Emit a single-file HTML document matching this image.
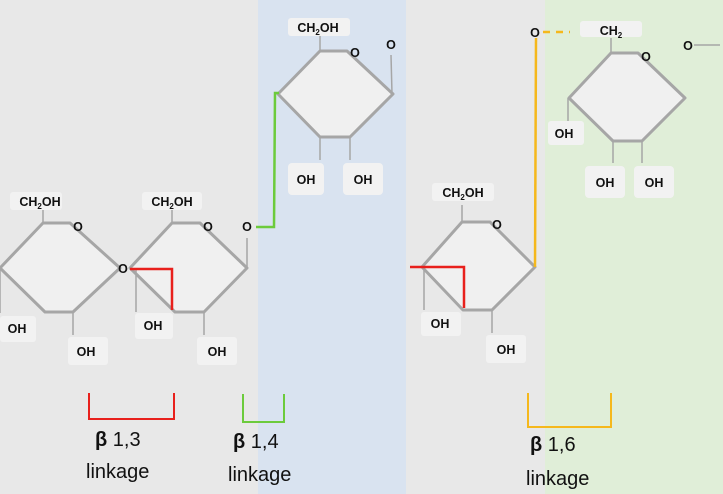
<!DOCTYPE html>
<html><head><style>body{margin:0}svg{display:block}</style></head><body>
<svg width="723" height="494" xmlns="http://www.w3.org/2000/svg" font-family="Liberation Sans, sans-serif">
<rect x="0" y="0" width="723" height="494" fill="#e8e8e8"/>
<rect x="258" y="0" width="148" height="494" fill="#d9e3f0"/>
<rect x="545" y="0" width="178" height="494" fill="#e0eed8"/>
<g fill="#f0f0f0" stroke="#a6a6a6" stroke-width="3" stroke-linejoin="round">
<polygon points="43,223 70,223 120,268 73,312 45,312 0,268"/>
<polygon points="172,223 200,223 247,268 204,312 175,312 130,268"/>
<polygon points="320,51 347,51 393,94 350,137 320,137 278,94"/>
<polygon points="462,222 490,222 535,267 492,310 463,310 422,267"/>
<polygon points="611,53 638,53 685,98 642,141 613,141 569,98"/>
</g>
<g stroke="#a6a6a6" stroke-width="1.5">
<line x1="43" y1="223" x2="43" y2="208"/><line x1="0" y1="268" x2="0" y2="313"/><line x1="73" y1="312" x2="73" y2="335"/>
<line x1="172" y1="223" x2="172" y2="208"/><line x1="136" y1="268" x2="136" y2="312"/><line x1="204" y1="312" x2="204" y2="335"/><line x1="247" y1="268" x2="247" y2="238"/>
<line x1="320" y1="51" x2="320" y2="35"/><line x1="392" y1="94" x2="391" y2="55"/><line x1="320" y1="137" x2="320" y2="160"/><line x1="350" y1="137" x2="350" y2="160"/>
<line x1="462" y1="222" x2="462" y2="205"/><line x1="424" y1="267" x2="424" y2="310"/><line x1="492" y1="310" x2="492" y2="333"/>
<line x1="611" y1="53" x2="611" y2="38"/><line x1="568" y1="98" x2="568" y2="122"/><line x1="613" y1="141" x2="613" y2="163"/><line x1="642" y1="141" x2="642" y2="163"/><line x1="694" y1="45" x2="720" y2="45"/>
</g>
<g fill="none" stroke-width="2.5">
<polyline points="130,269 172,269 172,310" stroke="#e8201c"/>
<polyline points="410,267 464,267 464,308" stroke="#e8201c"/>
<polyline points="256,227 274,227 275,93 279,93" stroke="#6ccb3c"/>
<polyline points="535,267 536,38" stroke="#f5b81c"/>
<line x1="543" y1="32" x2="570" y2="32" stroke="#f5b81c" stroke-dasharray="7,6"/>
<polyline points="89,393 89,419 174,419 174,393" stroke="#e8201c" stroke-width="2"/>
<polyline points="243,394 243,422 284,422 284,394" stroke="#6ccb3c" stroke-width="2"/>
<polyline points="528,393 528,427 611,427 611,393" stroke="#f5b81c" stroke-width="2"/>
</g>
<g fill="#f2f2f2">
<rect x="10" y="192" width="52" height="18" rx="3"/><rect x="142" y="192" width="60" height="18" rx="3"/>
<rect x="288" y="18" width="62" height="18" rx="3"/><rect x="432" y="183" width="62" height="18" rx="3"/><rect x="580" y="21" width="62" height="16" rx="3"/>
<rect x="0" y="316" width="36" height="26" rx="3"/><rect x="68" y="337" width="40" height="28" rx="3"/>
<rect x="135" y="313" width="38" height="26" rx="3"/><rect x="197" y="337" width="40" height="28" rx="3"/>
<rect x="288" y="163" width="36" height="32" rx="4"/><rect x="343" y="163" width="40" height="32" rx="4"/>
<rect x="421" y="312" width="40" height="24" rx="3"/><rect x="486" y="335" width="40" height="28" rx="3"/>
<rect x="548" y="121" width="36" height="24" rx="3"/><rect x="585" y="166" width="40" height="32" rx="4"/><rect x="634" y="166" width="40" height="32" rx="4"/>
</g>
<g font-size="12.5" font-weight="bold" fill="#111" text-anchor="middle">
<text x="40" y="206">CH<tspan font-size="8" dy="3">2</tspan><tspan dy="-3">OH</tspan></text>
<text x="172" y="206">CH<tspan font-size="8" dy="3">2</tspan><tspan dy="-3">OH</tspan></text>
<text x="318" y="32">CH<tspan font-size="8" dy="3">2</tspan><tspan dy="-3">OH</tspan></text>
<text x="463" y="197">CH<tspan font-size="8" dy="3">2</tspan><tspan dy="-3">OH</tspan></text>
<text x="611" y="35">CH<tspan font-size="8" dy="3">2</tspan></text>
<text x="78" y="231">O</text><text x="123" y="273">O</text><text x="208" y="231">O</text><text x="247" y="231">O</text>
<text x="355" y="57">O</text><text x="391" y="49">O</text><text x="497" y="229">O</text><text x="535" y="37">O</text>
<text x="646" y="61">O</text><text x="688" y="50">O</text>
<text x="17" y="333">OH</text><text x="86" y="356">OH</text><text x="153" y="330">OH</text><text x="217" y="356">OH</text>
<text x="306" y="184">OH</text><text x="363" y="184">OH</text><text x="440" y="328">OH</text><text x="506" y="354">OH</text>
<text x="564" y="138">OH</text><text x="605" y="187">OH</text><text x="654" y="187">OH</text>
</g>
<g font-size="20" fill="#111">
<text x="95" y="446"><tspan font-weight="bold">β</tspan>  1,3</text>
<text x="86" y="478">linkage</text>
<text x="233" y="448"><tspan font-weight="bold">β</tspan>  1,4</text>
<text x="228" y="481">linkage</text>
<text x="530" y="451"><tspan font-weight="bold">β</tspan>  1,6</text>
<text x="526" y="485">linkage</text>
</g>
</svg>
</body></html>
